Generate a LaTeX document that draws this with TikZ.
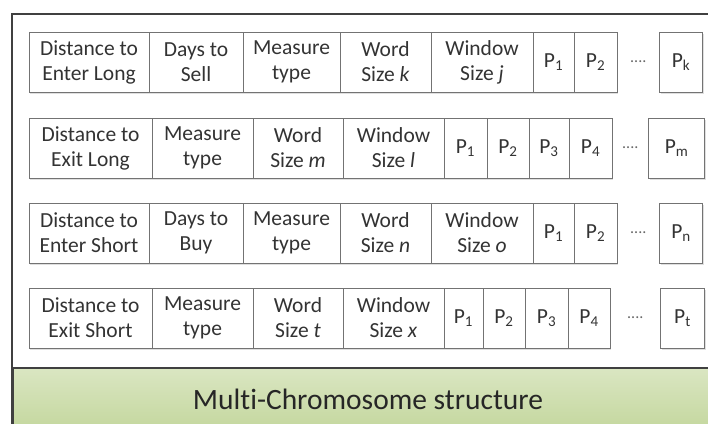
\documentclass[tikz,border=0pt]{standalone}
\usepackage{fontspec}
\setmainfont{Carlito}[Ligatures=NoCommon]
\usetikzlibrary{positioning,shadows}
\definecolor{framegray}{RGB}{64,64,64}
\definecolor{bandtop}{RGB}{218,230,194}
\definecolor{bandbottom}{RGB}{196,215,158}
\newcommand{\genefont}{\fontsize{21.5}{25}\selectfont}

\begin{document}
\begin{tikzpicture}[x=1pt,y=-1pt]
    % Define styles
    \tikzstyle{gene} = [rectangle, draw=black!55, line width=0.9pt, fill=white, minimum height=60pt, inner sep=0pt, outer sep=0pt, align=center, text=black!80, font=\genefont, drop shadow={shadow xshift=1pt, shadow yshift=-1.5pt, opacity=0.25}]
    \tikzstyle{param} = [gene, minimum width=42pt]
    \tikzstyle{dots} = [text=black!60, font=\fontsize{16}{16}\selectfont, inner sep=0pt]
    \tikzstyle{frame} = [draw=framegray, line width=2pt]

    \useasboundingbox (0,0) rectangle (708,423);
    \draw[frame] (12,14) rectangle (730,440);

    % Long entry chromosome
    \node[gene, minimum width=120pt, anchor=north west] (enterlong) at (29,32) {Distance to\\Enter Long};
    \node[gene, minimum width=94pt, right=0pt of enterlong] (sell) {Days to\\Sell};
    \node[gene, minimum width=97pt, right=0pt of sell] (measure1) {Measure\\type};
    \node[gene, minimum width=91pt, right=0pt of measure1] (word1) {Word\\Size \textit{k}};
    \node[gene, minimum width=102pt, right=0pt of word1] (window1) {Window\\Size \textit{j}};
    \node[param, minimum width=41pt, right=0pt of window1] (p11) {P\textsubscript{1}};
    \node[param, minimum width=43pt, right=0pt of p11] (p12) {P\textsubscript{2}};
    \node[dots, right=13pt of p12] (dots1) {....};
    \node[param, minimum width=43pt, right=13pt of dots1] (p1k) {P\textsubscript{k}};

    % Long exit chromosome
    \node[gene, minimum width=123pt, anchor=north west] (exitlong) at (29,118) {Distance to\\Exit Long};
    \node[gene, minimum width=101pt, right=0pt of exitlong] (measure2) {Measure\\type};
    \node[gene, minimum width=90pt, right=0pt of measure2] (word2) {Word\\Size \textit{m}};
    \node[gene, minimum width=101pt, right=0pt of word2] (window2) {Window\\Size \textit{l}};
    \node[param, minimum width=43pt, right=0pt of window2] (p21) {P\textsubscript{1}};
    \node[param, right=0pt of p21] (p22) {P\textsubscript{2}};
    \node[param, minimum width=40pt, right=0pt of p22] (p23) {P\textsubscript{3}};
    \node[param, minimum width=43pt, right=0pt of p23] (p24) {P\textsubscript{4}};
    \node[dots, right=10pt of p24] (dots2) {....};
    \node[param, minimum width=56pt, right=10pt of dots2] (p2m) {P\textsubscript{m}};

    % Short entry chromosome
    \node[gene, minimum width=120pt, anchor=north west] (entershort) at (29,203) {Distance to\\Enter Short};
    \node[gene, minimum width=94pt, right=0pt of entershort] (buy) {Days to\\Buy};
    \node[gene, minimum width=97pt, right=0pt of buy] (measure3) {Measure\\type};
    \node[gene, minimum width=91pt, right=0pt of measure3] (word3) {Word\\Size \textit{n}};
    \node[gene, minimum width=102pt, right=0pt of word3] (window3) {Window\\Size \textit{o}};
    \node[param, minimum width=41pt, right=0pt of window3] (p31) {P\textsubscript{1}};
    \node[param, minimum width=43pt, right=0pt of p31] (p32) {P\textsubscript{2}};
    \node[dots, right=13pt of p32] (dots3) {....};
    \node[param, minimum width=43pt, right=13pt of dots3] (p3n) {P\textsubscript{n}};

    % Short exit chromosome
    \node[gene, minimum width=123pt, anchor=north west] (exitshort) at (29,288) {Distance to\\Exit Short};
    \node[gene, minimum width=101pt, right=0pt of exitshort] (measure4) {Measure\\type};
    \node[gene, minimum width=90pt, right=0pt of measure4] (word4) {Word\\Size \textit{t}};
    \node[gene, minimum width=101pt, right=0pt of word4] (window4) {Window\\Size \textit{x}};
    \node[param, minimum width=39pt, right=0pt of window4] (p41) {P\textsubscript{1}};
    \node[param, right=0pt of p41] (p42) {P\textsubscript{2}};
    \node[param, minimum width=43pt, right=0pt of p42] (p43) {P\textsubscript{3}};
    \node[param, right=0pt of p43] (p44) {P\textsubscript{4}};
    \node[dots, right=17pt of p44] (dots4) {....};
    \node[param, minimum width=44pt, right=17pt of dots4] (p4t) {P\textsubscript{t}};

    % Caption band
    \node[frame, shade, top color=bandtop, bottom color=bandbottom, minimum width=710pt, minimum height=62pt, anchor=north west, inner sep=0pt, text=black!85, font=\fontsize{29.5}{31}\selectfont] (band) at (12,367) {Multi-Chromosome structure};
\end{tikzpicture}
\end{document}
